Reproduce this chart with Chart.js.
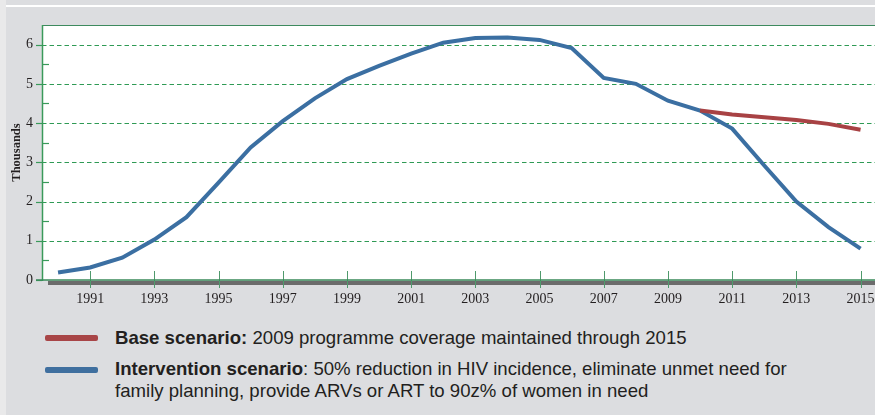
<!DOCTYPE html>
<html>
<head>
<meta charset="utf-8">
<script src="https://cdn.jsdelivr.net/npm/chart.js@4"></script>
<style>
  html, body { margin:0; padding:0; overflow:hidden; }
  body { width:875px; height:415px; background:#dcdde0; position:relative; font-family:"Liberation Sans", Arial, sans-serif; }
  #leftstrip { position:absolute; left:0; top:0; width:6px; height:415px; background:#e9e9ea; }
  #topline { position:absolute; left:6px; top:5px; width:869px; height:2px; background:#ffffff; }
  #c { position:absolute; left:0; top:0; }
  .sw { position:absolute; left:45px; width:53px; height:6px; border-radius:2px; }
  .lt { position:absolute; left:115px; font-size:18.6px; line-height:22px; color:#231f20; white-space:nowrap; }
</style>
</head>
<body>
<div id="leftstrip"></div>
<div id="topline"></div>
<canvas id="c" width="875" height="310"></canvas>
<div class="sw" style="top:335px;background:#a84547;"></div>
<div class="lt" style="top:327px;"><b>Base scenario:</b> 2009 programme coverage maintained through 2015</div>
<div class="sw" style="top:367px;background:#3f6f9f;"></div>
<div class="lt" style="top:358px;"><b>Intervention scenario</b>: 50% reduction in HIV incidence, eliminate unmet need for<br>family planning, provide ARVs or ART to 90z% of women in need</div>
<script>
const years = [1990,1991,1992,1993,1994,1995,1996,1997,1998,1999,2000,2001,2002,2003,2004,2005,2006,2007,2008,2009,2010,2011,2012,2013,2014,2015];
const intervention = [0.19,0.32,0.57,1.03,1.6,2.48,3.38,4.05,4.63,5.12,5.46,5.77,6.05,6.17,6.18,6.12,5.91,5.15,5.0,4.57,4.32,3.86,2.92,2.0,1.35,0.8];
const base = [null,null,null,null,null,null,null,null,null,null,null,null,null,null,null,null,null,null,null,null,4.32,4.22,4.15,4.08,3.98,3.83];
const xTickValues = [1991,1993,1995,1997,1999,2001,2003,2005,2007,2009,2011,2013,2015];
const yTickValues = [0,1,2,3,4,5,6];
const yMinorValues = [0.5,1.5,2.5,3.5,4.5,5.5];
const yTitle = 'Thousands';

const toPts = arr => years.map((y,i) => ({x:y, y:arr[i]}));

const deco = {
  id:'deco',
  beforeDraw(chart){
    const {ctx, chartArea:a} = chart;
    ctx.save();
    ctx.fillStyle = '#ffffff';
    ctx.fillRect(a.left, a.top, a.right - a.left, a.bottom - a.top);
    ctx.restore();
  },
  beforeDatasetsDraw(chart){
    const {ctx, chartArea:a, scales:{x, y}} = chart;
    ctx.save();
    ctx.strokeStyle = '#2f9a55';
    ctx.lineWidth = 1;
    ctx.setLineDash([4.5, 3]);
    yTickValues.forEach(v => {
      if (v === 0) return;
      const py = Math.round(y.getPixelForValue(v)) + 0.5;
      ctx.beginPath(); ctx.moveTo(a.left, py); ctx.lineTo(a.right, py); ctx.stroke();
    });
    ctx.setLineDash([]);
    ctx.fillStyle = '#6b6b6b';
    ctx.fillRect(48, a.bottom + 1, a.right - 48, 4);
    ctx.strokeStyle = '#4f9a6c';
    ctx.lineWidth = 1;
    xTickValues.forEach(v => {
      const px = Math.round(x.getPixelForValue(v)) + 0.5;
      ctx.beginPath(); ctx.moveTo(px, a.bottom - 9); ctx.lineTo(px, a.bottom + 8); ctx.stroke();
    });
    ctx.strokeStyle = '#3d8a5e';
    ctx.lineWidth = 1.2;
    ctx.beginPath(); ctx.moveTo(a.left, a.top + 0.5); ctx.lineTo(a.right, a.top + 0.5); ctx.stroke();
    ctx.strokeStyle = '#3a9a5a';
    ctx.lineWidth = 1.5;
    ctx.beginPath(); ctx.moveTo(a.left + 0.5, a.top); ctx.lineTo(a.left + 0.5, a.bottom + 1); ctx.stroke();
    ctx.lineWidth = 1.2;
    yTickValues.forEach(v => {
      const py = Math.round(y.getPixelForValue(v)) + 0.5;
      ctx.beginPath(); ctx.moveTo(a.left - 6, py); ctx.lineTo(a.left, py); ctx.stroke();
    });
    yMinorValues.forEach(v => {
      const py = Math.round(y.getPixelForValue(v)) + 0.5;
      ctx.beginPath(); ctx.moveTo(a.left, py); ctx.lineTo(a.left + 7, py); ctx.stroke();
    });
    ctx.strokeStyle = '#3a8a5a';
    ctx.lineWidth = 1.5;
    ctx.beginPath(); ctx.moveTo(a.left - 6, a.bottom); ctx.lineTo(a.right, a.bottom); ctx.stroke();
    ctx.fillStyle = '#231f20';
    ctx.font = 'bold 12.5px "Liberation Serif", "Times New Roman", serif';
    ctx.textAlign = 'center';
    ctx.textBaseline = 'middle';
    ctx.translate(17, (a.top + a.bottom) / 2);
    ctx.rotate(-Math.PI / 2);
    ctx.fillText(yTitle, 0, 0);
    ctx.restore();
  }
};

new Chart(document.getElementById('c'), {
  type:'line',
  data:{
    datasets:[
      { label:'Base scenario', data: toPts(base), borderColor:'#a84244', borderWidth:4, pointRadius:0, tension:0, spanGaps:false },
      { label:'Intervention scenario', data: toPts(intervention), borderColor:'#3b6fa2', borderWidth:4, pointRadius:0, tension:0 }
    ]
  },
  options:{
    responsive:false,
    animation:false,
    events:[],
    devicePixelRatio:1,
    layout:{ padding:{ top:25, left:0, right:0, bottom:0 }, autoPadding:false },
    plugins:{ legend:{display:false}, tooltip:{enabled:false} },
    scales:{
      x:{
        type:'linear', min:1989.5, max:2015.45,
        grid:{ display:false, drawTicks:false },
        border:{ display:false },
        afterBuildTicks(s){ s.ticks = xTickValues.map(v => ({value:v})); },
        afterFit(s){ s.height = 30; s.paddingLeft = 0; s.paddingRight = 0; },
        ticks:{ padding:11, maxRotation:0, autoSkip:false, color:'#231f20',
          font:{ family:'"Liberation Serif", "Times New Roman", serif', size:14 },
          callback: v => String(v) }
      },
      y:{
        type:'linear', min:0, max:6.5,
        grid:{ display:false, drawTicks:false },
        border:{ display:false },
        afterBuildTicks(s){ s.ticks = yTickValues.map(v => ({value:v})); },
        afterFit(s){ s.width = 42; s.paddingTop = 0; s.paddingBottom = 0; },
        ticks:{ padding:9, color:'#231f20',
          font:{ family:'"Liberation Serif", "Times New Roman", serif', size:14 },
          callback: v => String(v) }
      }
    }
  },
  plugins:[deco]
});
</script>
</body>
</html>
